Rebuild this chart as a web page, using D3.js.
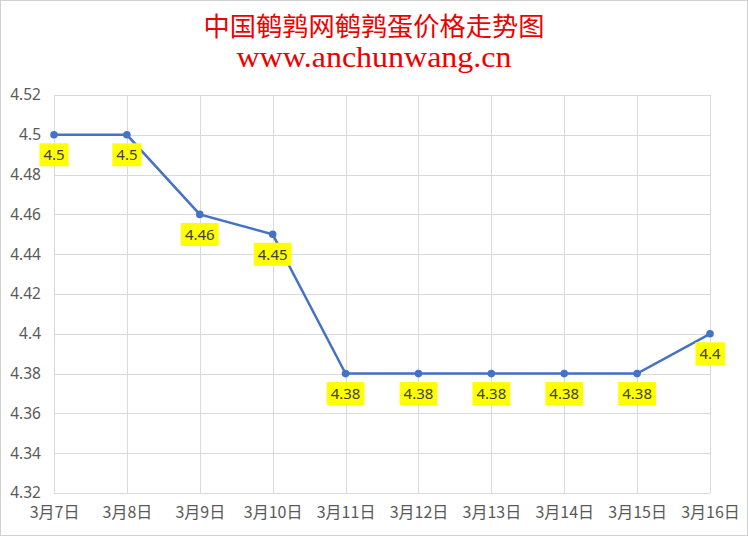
<!DOCTYPE html>
<html lang="zh">
<head>
<meta charset="UTF-8">
<title>中国鹌鹑网鹌鹑蛋价格走势图</title>
<style>
    body { margin: 0; background: #fff; }
    svg { display: block; font-family: 'Noto Sans CJK SC', 'Noto Sans', sans-serif; }
</style>
</head>
<body>
<div id="chart"></div>
<script src="https://d3js.org/d3.v7.min.js"></script>
<script>
    // chart data
    const dates = ["3月7日", "3月8日", "3月9日", "3月10日", "3月11日", "3月12日", "3月13日", "3月14日", "3月15日", "3月16日"];
    const prices = [4.5, 4.5, 4.46, 4.45, 4.38, 4.38, 4.38, 4.38, 4.38, 4.4];
    const yTicks = [4.32, 4.34, 4.36, 4.38, 4.4, 4.42, 4.44, 4.46, 4.48, 4.5, 4.52];

    const width = 748, height = 536;
    const margin = {top: 95, right: 38, bottom: 43, left: 54};

    const svg = d3.select("#chart").append("svg")
        .attr("width", width)
        .attr("height", height);

    // outer frame
    svg.append("rect")
        .attr("x", 0.5).attr("y", 0.5)
        .attr("width", width - 1).attr("height", height - 1)
        .attr("fill", "#fff").attr("stroke", "#d0d0d0");

    svg.append("text")
        .attr("x", width / 2).attr("y", 36)
        .attr("text-anchor", "middle")
        .attr("fill", "#ee0000")
        .attr("textLength", 341)
        .attr("lengthAdjust", "spacingAndGlyphs")
        .style("font-size", "26px")
        .style("font-family", "'Noto Sans CJK SC', sans-serif")
        .text("中国鹌鹑网鹌鹑蛋价格走势图");

    svg.append("text")
        .attr("x", width / 2).attr("y", 67)
        .attr("text-anchor", "middle")
        .attr("fill", "#ee0000")
        .attr("textLength", 275)
        .attr("lengthAdjust", "spacingAndGlyphs")
        .style("font-size", "29px")
        .style("font-family", "'Liberation Serif', serif")
        .text("www.anchunwang.cn");

    const x = d3.scalePoint()
        .domain(dates)
        .range([margin.left, width - margin.right]);

    const y = d3.scaleLinear()
        .domain([4.32, 4.52])
        .range([height - margin.bottom, margin.top]);

    // grid
    const grid = svg.append("g").attr("stroke", "#d9d9d9").attr("stroke-width", 1);
    grid.selectAll(".h").data(yTicks).join("line")
        .attr("x1", margin.left).attr("x2", width - margin.right)
        .attr("y1", d => Math.round(y(d)) + 0.5).attr("y2", d => Math.round(y(d)) + 0.5);
    grid.selectAll(".v").data(dates).join("line")
        .attr("x1", d => Math.round(x(d)) + 0.5).attr("x2", d => Math.round(x(d)) + 0.5)
        .attr("y1", margin.top).attr("y2", height - margin.bottom);

    // axes
    const yAxis = svg.append("g")
        .attr("transform", `translate(${margin.left - 10},0)`)
        .call(d3.axisLeft(y).tickValues(yTicks).tickSize(0).tickFormat(d3.format("")));
    yAxis.select(".domain").remove();
    yAxis.selectAll("text")
        .attr("fill", "#595959")
        .style("font-size", "15.5px")
        .style("font-family", "'Noto Sans', sans-serif");

    const xAxis = svg.append("g")
        .attr("transform", `translate(0,${height - margin.bottom + 11})`)
        .call(d3.axisBottom(x).tickSize(0));
    xAxis.select(".domain").remove();
    xAxis.selectAll("text")
        .attr("fill", "#595959")
        .style("font-size", "16px")
        .style("font-family", "'Noto Sans CJK SC', sans-serif");

    // line
    const pts = dates.map((d, i) => ({date: d, value: prices[i]}));
    svg.append("path")
        .datum(pts)
        .attr("fill", "none")
        .attr("stroke", "#4472c4")
        .attr("stroke-width", 2.5)
        .attr("d", d3.line().x(d => x(d.date)).y(d => y(d.value)));

    svg.selectAll(".dot").data(pts).join("circle")
        .attr("cx", d => x(d.date))
        .attr("cy", d => y(d.value))
        .attr("r", 3.8)
        .attr("fill", "#4472c4");

    // data labels
    const labels = svg.selectAll(".lbl").data(pts).join("g")
        .attr("transform", d => `translate(${x(d.date)},${y(d.value) + 20})`);
    labels.append("text")
        .attr("text-anchor", "middle")
        .attr("dy", "0.35em")
        .attr("fill", "#404040")
        .style("font-size", "15px")
        .style("font-family", "'Noto Sans', sans-serif")
        .text(d => d.value);
    labels.each(function() {
        const g = d3.select(this);
        const b = g.select("text").node().getBBox();
        g.insert("rect", "text")
            .attr("x", b.x - 4).attr("y", -11.5)
            .attr("width", b.width + 8).attr("height", 23)
            .attr("fill", "#ffff00");
    });
</script>
</body>
</html>
